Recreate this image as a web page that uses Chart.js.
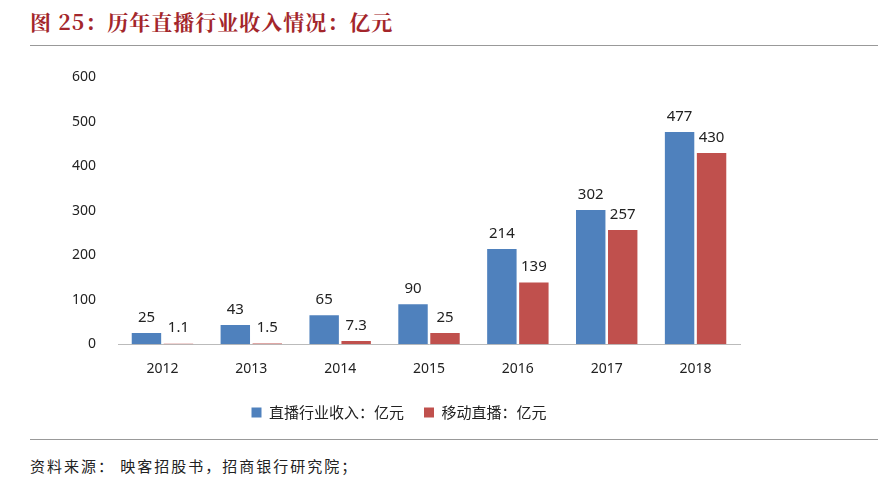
<!DOCTYPE html>
<html><head><meta charset="utf-8">
<script src="https://cdn.jsdelivr.net/npm/chart.js@4/dist/chart.umd.min.js"></script>
<style>
body{margin:0;width:884px;height:485px;background:#fff;font-family:"Noto Sans CJK SC",sans-serif;position:relative;overflow:hidden}
#title{position:absolute;left:30px;top:6px;font-family:"Noto Serif CJK SC","Noto Sans CJK SC";font-weight:bold;font-size:21px;letter-spacing:1px;color:#a3262b}
.rule{position:absolute;left:30px;width:848px;height:1px;background:#999}
#src{position:absolute;left:30px;top:455px;font-size:15px;letter-spacing:2px;color:#222}
#wrap{position:absolute;left:0;top:55px;width:884px;height:375px}
</style></head><body>
<div id="title">图 25：历年直播行业收入情况：亿元</div>
<div class="rule" style="top:45px"></div>
<div id="wrap"><canvas id="c"></canvas></div>
<div class="rule" style="top:439px"></div>
<div id="src">资料来源： 映客招股书，招商银行研究院；</div>
<script>
// Data
const years = ['2012', '2013', '2014', '2015', '2016', '2017', '2018'];
const liveRevenue = [25, 43, 65, 90, 214, 302, 477];
const mobileLive = [1.1, 1.5, 7.3, 25, 139, 257, 430];
const yTicks = [0, 100, 200, 300, 400, 500, 600];

// Value labels above bars
const valueLabels = {
    id: 'valueLabels',
    afterDatasetsDraw(chart) {
        const ctx = chart.ctx;
        ctx.save();
        ctx.font = '15px "Noto Sans", sans-serif';
        ctx.fillStyle = '#222';
        ctx.textAlign = 'center';
        ctx.textBaseline = 'bottom';
        chart.data.datasets.forEach((ds, i) => {
            chart.getDatasetMeta(i).data.forEach((bar, j) => {
                ctx.fillText(ds.data[j], bar.x, bar.y - 8);
            });
        });
        ctx.restore();
    }
};

new Chart(document.getElementById('c'), {
    type: 'bar',
    data: {
        labels: years,
        datasets: [
            { label: '直播行业收入：亿元', data: liveRevenue, backgroundColor: '#4f81bd' },
            { label: '移动直播：亿元', data: mobileLive, backgroundColor: '#c0504d' }
        ]
    },
    options: {
        responsive: true,
        maintainAspectRatio: false,
        animation: false,
        layout: { padding: { left: 58, right: 144, top: 16, bottom: 0 } },
        datasets: { bar: { categoryPercentage: 0.72, barPercentage: 0.92 } },
        plugins: {
            legend: {
                position: 'bottom',
                labels: { boxWidth: 10, boxHeight: 10, font: { size: 15, family: '"Noto Sans CJK SC"' }, color: '#222', padding: 20 }
            },
            tooltip: { enabled: false }
        },
        scales: {
            x: {
                grid: { display: false },
                border: { color: '#bbb' },
                ticks: { font: { size: 14, family: '"Noto Sans"' }, color: '#222', padding: 8 }
            },
            y: {
                min: 0, max: 600,
                afterBuildTicks: (s) => { s.ticks = yTicks.map(v => ({ value: v })); },
                grid: { display: false },
                border: { display: false },
                ticks: { font: { size: 14, family: '"Noto Sans"' }, color: '#222', padding: 14 }
            }
        }
    },
    plugins: [valueLabels]
});
</script>
</body></html>
